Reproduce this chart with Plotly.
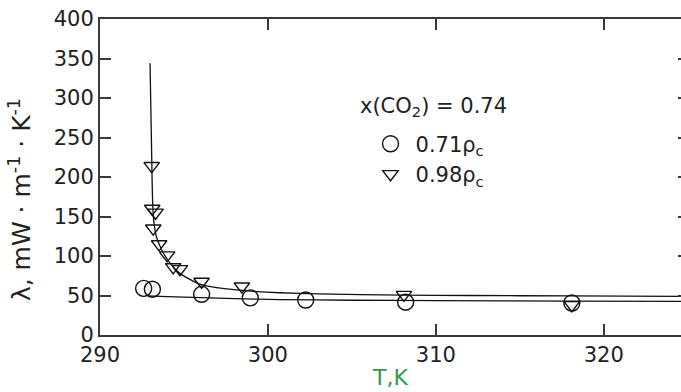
import plotly.graph_objects as go

# Measured thermal conductivity of CO2 mixture, x(CO2) = 0.74
t_low = [292.6, 293.12, 296.05, 298.95, 302.25, 308.2, 318.1]
lam_low = [59, 58, 51.5, 47, 44.3, 41.5, 40.5]

t_high = [293.08, 293.11, 293.31, 293.17, 293.52, 294.0, 294.36, 294.76, 296.05, 298.45, 308.1, 318.1]
lam_high = [214, 160, 155, 135, 115, 101, 86, 83.5, 67.5, 61.5, 51, 38]

# Correlation curves
fit_low_t = [292.85, 294, 296, 298, 300.7, 305, 310, 318, 324.6]
fit_low_lam = [49.5, 48.5, 47.3, 46, 44.8, 44, 43.5, 42.8, 42.5]

fit_high_t = [292.98, 293.06, 293.1, 293.14, 293.2, 293.35, 293.67, 294.17, 294.76,
              295.75, 296.5, 297.7, 299, 300.7, 303, 308, 312, 318, 324.6]
fit_high_lam = [344, 250, 200, 165, 145, 125, 108, 91, 78,
                66, 61.5, 58, 55.5, 53.5, 52, 50.6, 50, 49.4, 49]

x_ticks = [290, 300, 310, 320]
y_ticks = [0, 50, 100, 150, 200, 250, 300, 350, 400]

FONT = "DejaVu Sans"
INK = "#222222"
AXIS = "#3a3a3a"

fig = go.Figure()

fig.add_trace(go.Scatter(x=fit_low_t, y=fit_low_lam, mode="lines",
                         line=dict(color="#111111", width=1.3, shape="spline", smoothing=0.6),
                         showlegend=False, hoverinfo="skip"))
fig.add_trace(go.Scatter(x=fit_high_t, y=fit_high_lam, mode="lines",
                         line=dict(color="#111111", width=1.3, shape="spline", smoothing=0.6),
                         showlegend=False, hoverinfo="skip"))

fig.add_trace(go.Scatter(x=t_low, y=lam_low, mode="markers", name="0.71ρ<sub>c</sub>",
                         marker=dict(symbol="circle-open", size=16, color="#111111",
                                     line=dict(width=1.4, color="#111111"))))
fig.add_trace(go.Scatter(x=t_high, y=lam_high, mode="markers", name="0.98ρ<sub>c</sub>",
                         marker=dict(symbol="triangle-down-open", size=13.5, color="#111111",
                                     line=dict(width=1.4, color="#111111"))))

fig.update_layout(
    width=681, height=392,
    margin=dict(l=100, r=0, t=19, b=57),
    paper_bgcolor="white", plot_bgcolor="white",
    font=dict(family=FONT, size=21, color=INK),
    showlegend=True,
    legend=dict(x=0.457, y=0.669, xanchor="left", yanchor="top",
                bgcolor="rgba(0,0,0,0)", borderwidth=0,
                font=dict(family=FONT, size=21, color=INK),
                itemwidth=40, tracegroupgap=0),
    xaxis=dict(range=[290, 324.6], tickvals=x_ticks, ticks="inside", ticklen=11,
               tickwidth=1.5, tickcolor=AXIS, showline=True, linecolor=AXIS, linewidth=2,
               mirror="ticks", showgrid=False, zeroline=False,
               tickfont=dict(family=FONT, size=21, color=INK)),
    yaxis=dict(range=[0, 400], tickvals=y_ticks, ticks="inside", ticklen=11,
               tickwidth=1.5, tickcolor=AXIS, showline=True, linecolor=AXIS, linewidth=2,
               showgrid=False, zeroline=False,
               tickfont=dict(family=FONT, size=21, color=INK)),
    yaxis2=dict(range=[0, 400], tickvals=y_ticks, overlaying="y", side="right",
                ticks="inside", ticklen=3, tickwidth=1.5, tickcolor=AXIS,
                showticklabels=False, showline=False, showgrid=False, zeroline=False),
)

# Right-hand tick marks carried by an overlay axis
fig.add_trace(go.Scatter(x=[None], y=[None], yaxis="y2", showlegend=False, hoverinfo="skip"))

fig.add_annotation(text="λ, mW · m<sup>-1</sup> · K<sup>-1</sup>", xref="paper", yref="paper",
                   x=-0.1377, y=0.43, xanchor="center", yanchor="middle", textangle=-90,
                   showarrow=False, font=dict(family=FONT, size=25, color=INK))
fig.add_annotation(text="T,K", xref="paper", yref="paper", x=0.499, y=-0.136,
                   xanchor="center", yanchor="middle", showarrow=False,
                   font=dict(family=FONT, size=22, color="#2e9a55"))
fig.add_annotation(text="x(CO<sub>2</sub>) = 0.74", xref="paper", yref="paper",
                   x=0.444, y=0.7215, xanchor="left", yanchor="middle", showarrow=False,
                   font=dict(family=FONT, size=21, color=INK))

fig.write_html("out.html")
